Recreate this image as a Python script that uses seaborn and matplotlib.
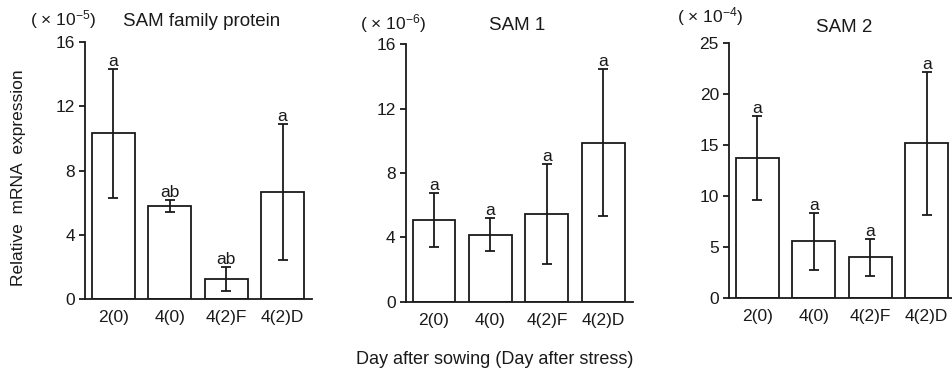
import matplotlib
matplotlib.use("Agg")
import matplotlib.pyplot as plt
import seaborn as sns
import pandas as pd

# Sampling points: day after sowing (day after stress)
categories = ["2(0)", "4(0)", "4(2)F", "4(2)D"]

# SAM family protein (x 10^-5)
sam_family_mean = [10.3, 5.8, 1.28, 6.66]
sam_family_err = [4.0, 0.38, 0.75, 4.22]
sam_family_letters = ["a", "ab", "ab", "a"]

# SAM 1 (x 10^-6)
sam1_mean = [5.06, 4.17, 5.44, 9.87]
sam1_err = [1.68, 1.03, 3.1, 4.57]
sam1_letters = ["a", "a", "a", "a"]

# SAM 2 (x 10^-4)
sam2_mean = [13.76, 5.59, 4.02, 15.14]
sam2_err = [4.1, 2.8, 1.8, 6.96]
sam2_letters = ["a", "a", "a", "a"]

titles = ["SAM family protein", "SAM 1", "SAM 2"]
scales = ["( × 10$^{-5}$)", "( × 10$^{-6}$)", "( × 10$^{-4}$)"]
y_limits = [16, 16, 25]
y_ticks = [[0, 4, 8, 12, 16], [0, 4, 8, 12, 16], [0, 5, 10, 15, 20, 25]]

sns.set_style("ticks")
plt.rcParams["font.family"] = ["Liberation Sans", "DejaVu Sans"]
plt.rcParams["mathtext.fontset"] = "custom"
plt.rcParams["mathtext.rm"] = "Liberation Sans"
plt.rcParams["mathtext.default"] = "regular"
plt.rcParams["text.color"] = "#1a1a1a"

FS = 12.5
LW = 1.3
INK = "#1a1a1a"

fig = plt.figure(figsize=(9.52, 3.76), dpi=100)

axes_rects = [
    [0.0893, 0.2040, 0.2384, 0.685],
    [0.4262, 0.1976, 0.2384, 0.6846],
    [0.7658, 0.2066, 0.2384, 0.680],
]

panels = [
    (sam_family_mean, sam_family_err, sam_family_letters),
    (sam1_mean, sam1_err, sam1_letters),
    (sam2_mean, sam2_err, sam2_letters),
]

for k, (rect, (means, errs, letters)) in enumerate(zip(axes_rects, panels)):
    ax = fig.add_axes(rect)
    df = pd.DataFrame({"group": categories, "value": means})
    sns.barplot(data=df, x="group", y="value", ax=ax, color="white",
                saturation=1, edgecolor=INK, linewidth=LW, width=0.76,
                errorbar=None)
    xs = list(range(len(categories)))
    ax.errorbar(xs, means, yerr=errs, fmt="none", ecolor=INK,
                elinewidth=LW, capsize=3.6, capthick=LW)
    for x, m, e, lab in zip(xs, means, errs, letters):
        ax.annotate(lab, (x, m + e), xytext=(0, 0), textcoords="offset points",
                    ha="center", va="bottom", fontsize=FS)
    ax.set_xlim(-0.5, 3.52)
    ax.set_ylim(0, y_limits[k])
    ax.set_yticks(y_ticks[k])
    ax.set_xlabel("")
    ax.set_ylabel("")
    ax.tick_params(axis="y", length=4.3, width=LW, pad=3.0, labelsize=FS,
                   colors=INK)
    ax.tick_params(axis="x", length=0, pad=8, labelsize=FS, colors=INK)
    for side in ("top", "right"):
        ax.spines[side].set_visible(False)
    for side in ("left", "bottom"):
        ax.spines[side].set_linewidth(LW)
        ax.spines[side].set_color(INK)
    ax.patch.set_alpha(0)

# Scale factors and panel titles
scale_pos = [(30, 20), (360, 24), (677, 17)]
title_pos = [(202, 22), (517.5, 25), (844, 27)]
W, H = 952, 376
for (sx, sy), (tx, ty), s, t in zip(scale_pos, title_pos, scales, titles):
    fig.text(sx / W, 1 - sy / H, s, ha="left", va="center", fontsize=FS)
    fig.text(tx / W, 1 - ty / H, t, ha="center", va="center", fontsize=13.5)

fig.text(19 / W, 1 - 178 / H, "Relative  mRNA  expression", rotation=90,
         ha="center", va="center", fontsize=FS)
fig.text(495 / W, 1 - 360 / H, "Day after sowing (Day after stress)",
         ha="center", va="center", fontsize=13)

fig.savefig("out.png", dpi=100, facecolor="white")
